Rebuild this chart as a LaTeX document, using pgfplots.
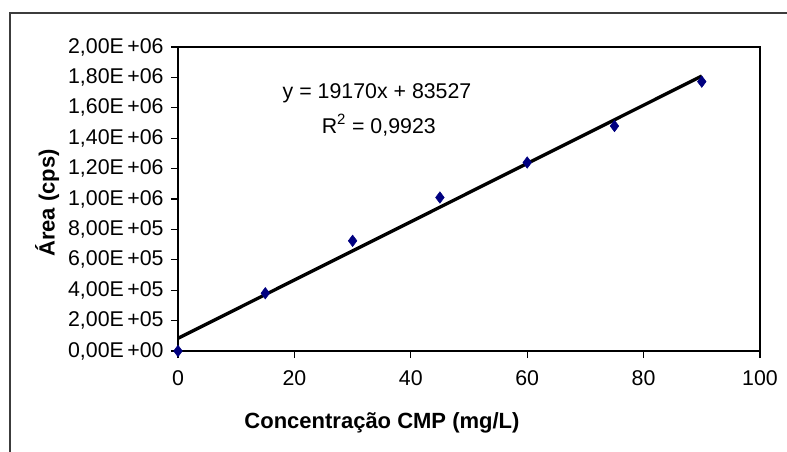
\documentclass[border=0pt]{standalone}
\usepackage{pgfplots}
\pgfplotsset{compat=1.18}
\usepackage{fontspec}
\setmainfont{Liberation Sans}
\definecolor{ptnavy}{RGB}{0,0,128}
\definecolor{framegray}{RGB}{60,60,60}

\begin{document}
\begin{tikzpicture}[x=0.75pt,y=0.75pt]
% picture is 787x452 px, plot box lower-left sits at the origin
\clip (-178,-101) rectangle (609,351);
\draw[line width=1.5pt, framegray] (-168,338) rectangle (800,-300);
\begin{axis}[
at={(0,0)}, anchor=south west,
scale only axis,
width=436.5pt, height=228pt,
xmin=0, xmax=100,
ymin=0, ymax=2000000,
xtick={0,20,...,100},
ytick={0,200000,...,2000000},
yticklabels={{0,00E\,+00},{2,00E\,+05},{4,00E\,+05},{6,00E\,+05},{8,00E\,+05},{1,00E\,+06},{1,20E\,+06},{1,40E\,+06},{1,60E\,+06},{1,80E\,+06},{2,00E\,+06}},
scaled y ticks=false,
tick align=outside,
tick pos=left,
major tick length=5.25pt,
axis line style={line width=1.1pt},
every tick/.style={black, line width=1pt},
ticklabel style={font=\fontsize{16}{19}\selectfont},
xticklabel style={yshift=-6pt},
yticklabel style={xshift=-2pt},
/pgf/number format/assume math mode=true,
xlabel={\textbf{Concentração CMP (mg/L)}},
ylabel={\textbf{Área (cps)}},
label style={font=\fontsize{16.5}{19}\selectfont},
xlabel style={at={(axis description cs:0.3505,-0.237)}, anchor=center},
ylabel style={at={(axis description cs:-0.225,0.487)}, anchor=center, rotate=0},
clip=false,
]
% trend line from the fitted equation, endpoints x=0 and x=90
\addplot[black, line width=2.5pt] coordinates {(0,83527) (90,1808827)};
\addplot[only marks, mark=diamond*, mark size=4.3pt, color=ptnavy] coordinates {
(0,0) (15,380000) (30,725000) (45,1010000) (60,1240000) (75,1480000) (90,1772000)
};
\node[font=\fontsize{16}{19}\selectfont] at (axis cs:34.2,1697000) {y = 19170x + 83527};
\node[font=\fontsize{16}{19}\selectfont] at (axis cs:34.5,1487000) {R\textsuperscript{2} = 0,9923};
\end{axis}
\end{tikzpicture}
\end{document}
